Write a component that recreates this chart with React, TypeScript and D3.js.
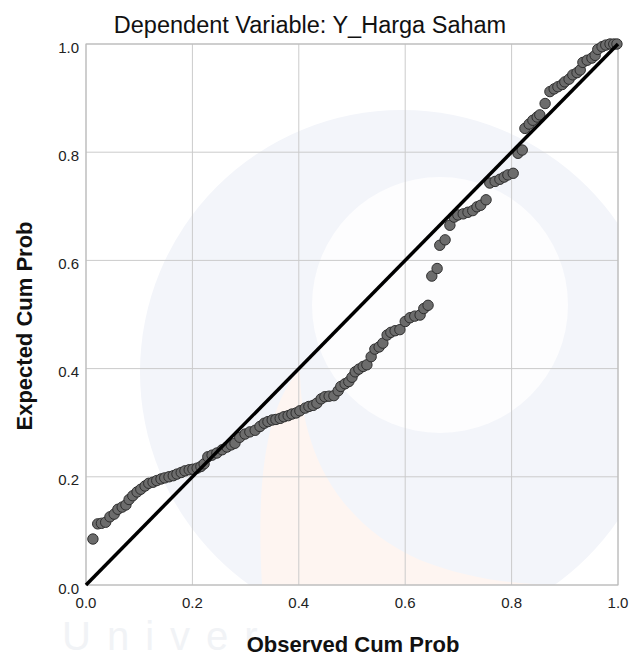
import React from "react";
import { scaleLinear, line, format } from "d3";

// observed vs expected cumulative probability
const obsCumProb = [
  0.013, 0.022, 0.029, 0.037, 0.045, 0.053, 0.06, 0.068, 0.075, 0.081,
  0.088, 0.096, 0.103, 0.111, 0.118, 0.126, 0.133, 0.141, 0.148, 0.156,
  0.164, 0.171, 0.179, 0.186, 0.194, 0.201, 0.209, 0.216, 0.222, 0.229,
  0.237, 0.246, 0.256, 0.265, 0.273, 0.28, 0.289, 0.299, 0.308, 0.318,
  0.327, 0.335, 0.342, 0.35, 0.357, 0.365, 0.372, 0.38, 0.387, 0.395,
  0.402, 0.412, 0.419, 0.427, 0.434, 0.442, 0.449, 0.457, 0.466, 0.474,
  0.479, 0.487, 0.494, 0.5, 0.506, 0.513, 0.521, 0.528, 0.536, 0.543,
  0.551, 0.558, 0.566, 0.573, 0.581, 0.59, 0.6, 0.609, 0.618, 0.628,
  0.635, 0.643, 0.65, 0.66, 0.665, 0.675, 0.684, 0.692, 0.699, 0.709,
  0.718, 0.727, 0.735, 0.742, 0.752, 0.759, 0.769, 0.778, 0.786, 0.793,
  0.803, 0.812, 0.82, 0.825, 0.833, 0.84, 0.848, 0.853, 0.863, 0.872,
  0.88, 0.887, 0.895, 0.9, 0.908, 0.915, 0.923, 0.929, 0.934, 0.942,
  0.951, 0.957, 0.962, 0.97, 0.977, 0.985, 0.992, 0.998,
];
const expCumProb = [
  0.085, 0.113, 0.114, 0.116, 0.126, 0.131, 0.14, 0.144, 0.148, 0.158,
  0.165, 0.172, 0.177, 0.183, 0.188, 0.19, 0.193, 0.196, 0.198, 0.2,
  0.202, 0.205, 0.208, 0.211, 0.213, 0.214, 0.216, 0.219, 0.224, 0.237,
  0.24, 0.244, 0.25, 0.255, 0.259, 0.262, 0.273, 0.279, 0.283, 0.286,
  0.293, 0.299, 0.302, 0.305, 0.306, 0.308, 0.311, 0.313, 0.316, 0.318,
  0.322, 0.327, 0.33, 0.332, 0.336, 0.344, 0.348, 0.349, 0.35, 0.359,
  0.367, 0.372, 0.376, 0.384, 0.394, 0.399, 0.404, 0.407, 0.422, 0.436,
  0.44, 0.447, 0.462, 0.467, 0.47, 0.472, 0.487, 0.494, 0.497, 0.499,
  0.511, 0.517, 0.571, 0.585, 0.628, 0.638, 0.665, 0.68, 0.684, 0.686,
  0.689, 0.692, 0.699, 0.702, 0.712, 0.743, 0.746, 0.75, 0.754, 0.758,
  0.761, 0.798, 0.804, 0.844, 0.852, 0.859, 0.865, 0.869, 0.89, 0.912,
  0.917, 0.921, 0.925, 0.93, 0.935, 0.943, 0.947, 0.952, 0.966, 0.97,
  0.974, 0.979, 0.99, 0.995, 0.998, 1.0, 1.0, 1.0,
];
const refLine = [0, 1];
const xTicks = [0, 0.2, 0.4, 0.6, 0.8, 1.0];
const yTicks = [0, 0.2, 0.4, 0.6, 0.8, 1.0];

const title = "Dependent Variable: Y_Harga Saham";
const xLabel = "Observed Cum Prob";
const yLabel = "Expected Cum Prob";
const watermark = "Univer";

const width = 629;
const height = 659;
const left = 86;
const right = 618;
const top = 44;
const bottom = 585;
const font = "'Liberation Sans', Arial, sans-serif";

const App = () => {
  const x = scaleLinear().domain([0, 1]).range([left, right]);
  const y = scaleLinear().domain([0, 1]).range([bottom, top]);
  const fmt = format(".1f");

  const diag = line<number>()
    .x((d) => x(d))
    .y((d) => y(d))(refLine);

  return (
    <svg
      width={width}
      height={height}
      style={{ position: "absolute", left: 0, top: 0, background: "#fff" }}
    >
      <defs>
        <clipPath id="plotClip">
          <rect x={left} y={top} width={right - left} height={bottom - top} />
        </clipPath>
      </defs>

      {/* faint watermark behind the plot */}
      <g clipPath="url(#plotClip)">
        <circle cx={402} cy={372} r={262} fill="#f3f5fa" />
        <circle cx={440} cy={305} r={128} fill="#fdfdfe" />
        <path
          d="M262,585 C255,470 270,400 300,370 C300,440 330,520 420,560 C470,580 520,585 565,585 Z"
          fill="#fef5f1"
        />
      </g>
      <text
        x={62}
        y={650}
        fontFamily={font}
        fontSize={40}
        letterSpacing={16}
        fill="#f1f3f6"
      >
        {watermark}
      </text>

      {/* grid */}
      {xTicks.map((t) => (
        <line
          key={"gx" + t}
          x1={x(t)}
          x2={x(t)}
          y1={top}
          y2={bottom}
          stroke="#cbcbcb"
          strokeWidth={1}
        />
      ))}
      {yTicks.map((t) => (
        <line
          key={"gy" + t}
          x1={left}
          x2={right}
          y1={y(t)}
          y2={y(t)}
          stroke="#cbcbcb"
          strokeWidth={1}
        />
      ))}
      <rect
        x={left}
        y={top}
        width={right - left}
        height={bottom - top}
        fill="none"
        stroke="#b8b8b8"
        strokeWidth={1}
      />

      {/* tick labels */}
      {xTicks.map((t) => (
        <text
          key={"tx" + t}
          x={x(t)}
          y={608}
          textAnchor="middle"
          fontFamily={font}
          fontSize={15}
          fill="#222"
        >
          {fmt(t)}
        </text>
      ))}
      {yTicks.map((t) => (
        <text
          key={"ty" + t}
          x={79}
          y={y(t) + 8.5}
          textAnchor="end"
          fontFamily={font}
          fontSize={15}
          fill="#222"
        >
          {fmt(t)}
        </text>
      ))}

      {/* points */}
      {obsCumProb.map((d, i) => (
        <circle
          key={i}
          cx={x(d)}
          cy={y(expCumProb[i])}
          r={5.2}
          fill="#6c6c6c"
          stroke="#2e2e2e"
          strokeWidth={1}
        />
      ))}

      {/* reference line */}
      <path d={diag || ""} fill="none" stroke="#000" strokeWidth={3.5} />

      {/* titles */}
      <text
        x={310}
        y={33}
        textAnchor="middle"
        fontFamily={font}
        fontSize={23.5}
        fill="#111"
      >
        {title}
      </text>
      <text
        x={353}
        y={652}
        textAnchor="middle"
        fontFamily={font}
        fontSize={22}
        fontWeight="bold"
        fill="#111"
      >
        {xLabel}
      </text>
      <text
        transform={`translate(32,326) rotate(-90)`}
        textAnchor="middle"
        fontFamily={font}
        fontSize={22}
        fontWeight="bold"
        fill="#111"
      >
        {yLabel}
      </text>
    </svg>
  );
};

export default App;
